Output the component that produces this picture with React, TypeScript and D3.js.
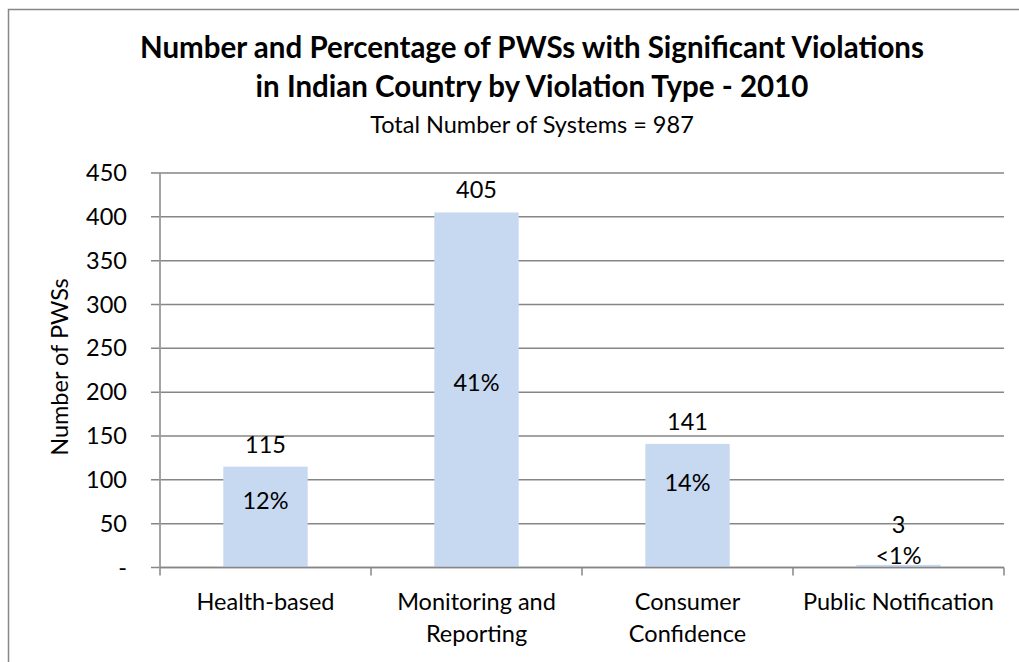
import React from 'react';
import { scaleBand, scaleLinear, range } from 'd3';

const categories = [['Health-based'], ['Monitoring and', 'Reporting'], ['Consumer', 'Confidence'], ['Public Notification']];
const counts = [115, 405, 141, 3];
const percents = ['12%', '41%', '14%', '<1%'];
// where the percentage labels sit (baseline, in number of PWSs)
const pctLabelAt = [67, 201, 87, 4];
const yTicks = [0, 50, 100, 150, 200, 250, 300, 350, 400, 450];
const titleLines = ['Number and Percentage of PWSs with Significant Violations', 'in Indian Country by Violation Type - 2010'];
const subtitle = 'Total Number of Systems = 987';

const width = 1019;
const height = 662;
const margin = { left: 160, right: 15, top: 173, bottom: 94.5 };
const font = 'Lato, "Open Sans", sans-serif';
const fs = 23.5;

const App = () => {
  const keys = categories.map(d => d.join(' '));
  const x = scaleBand()
    .domain(keys)
    .range([margin.left, width - margin.right])
    .paddingInner(0.6)
    .paddingOuter(0.3);
  const y = scaleLinear()
    .domain([0, 450])
    .range([height - margin.bottom, margin.top]);
  const step = x.step();
  const x0 = margin.left;
  const x1 = width - margin.right;
  const y0 = y(0);

  return (
    <svg width={width} height={height} style={{ position: 'absolute', left: 0, top: 0 }} fontFamily={font}>
      <rect x={0} y={0} width={width} height={height} fill="#fff" />
      <rect x={8.5} y={9.5} width={width + 20} height={height + 20} fill="none" stroke="#878787" strokeWidth={1.5} />

      {titleLines.map((t, i) => (
        <text key={t} x={532} y={58 + i * 39} textAnchor="middle" fontWeight="bold" fontSize={29.5} fill="#000">{t}</text>
      ))}
      <text x={532} y={133} textAnchor="middle" fontSize={fs} fill="#000">{subtitle}</text>

      {yTicks.map(t => (
        <g key={t}>
          <line x1={151} x2={x1} y1={y(t)} y2={y(t)} stroke="#868686" strokeWidth={1.5} />
          <text x={127} y={y(t) + 8} textAnchor="end" fontSize={fs} fill="#000">{t === 0 ? '-' : t}</text>
        </g>
      ))}
      <line x1={x0} x2={x0} y1={margin.top} y2={y0 + 8} stroke="#9a9a9a" strokeWidth={1.8} />
      {range(1, keys.length + 1).map(i => (
        <line key={i} x1={x0 + step * i} x2={x0 + step * i} y1={y0} y2={y0 + 8} stroke="#868686" strokeWidth={1.5} />
      ))}

      {keys.map((k, i) => {
        const by = y(counts[i]);
        const py = y(pctLabelAt[i]);
        const cx = x(k) + x.bandwidth() / 2;
        const vy = Math.min(by, py - 17) - 14;
        return (
          <g key={k}>
            <rect x={x(k)} y={by} width={x.bandwidth()} height={y0 - by} fill="#c6d9f1" />
            <text x={cx} y={vy} textAnchor="middle" fontSize={fs} fill="#000">{counts[i]}</text>
            <text x={cx} y={py} textAnchor="middle" fontSize={fs} fill="#000">{percents[i]}</text>
            {categories[i].map((line, j) => (
              <text key={line} x={cx} y={610 + j * 32} textAnchor="middle" fontSize={fs} fill="#000">{line}</text>
            ))}
          </g>
        );
      })}
      <line x1={x0} x2={x1} y1={y0} y2={y0} stroke="#868686" strokeWidth={1.5} />

      <text transform={`translate(68,367) rotate(-90)`} textAnchor="middle" fontSize={fs} fill="#000">Number of PWSs</text>
    </svg>
  );
};

export default App;
